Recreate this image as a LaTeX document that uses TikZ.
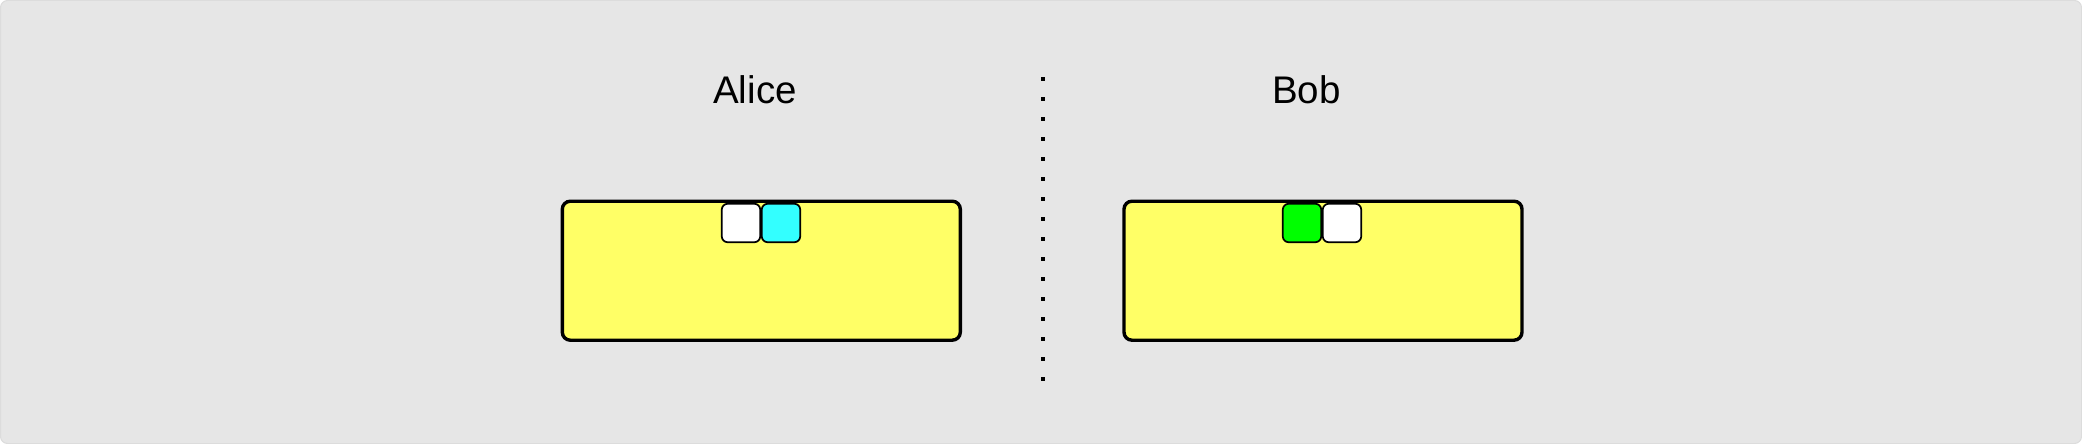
\documentclass[tikz,border=0pt]{standalone}
\usepackage{fontspec}
\setmainfont{Liberation Sans}
\definecolor{bggray}{HTML}{E6E6E6}
\definecolor{bgedge}{HTML}{DCDCDC}
\definecolor{boxyellow}{HTML}{FFFF66}
\definecolor{qcyan}{HTML}{33FFFF}
\definecolor{qgreen}{HTML}{00FF00}
\tikzset{
  party/.style={draw=black, line width=3.4pt, fill=boxyellow, rounded corners=8pt,
    minimum width=398pt, minimum height=139pt, inner sep=0pt, outer sep=0pt},
  qubit/.style={draw=black, line width=1.7pt, rounded corners=6pt,
    minimum width=38.5pt, minimum height=38.5pt, inner sep=0pt, outer sep=0pt},
  lbl/.style={font=\fontsize{38.5}{46}\selectfont, inner sep=0pt, anchor=base},
  divider/.style={line width=4pt, dash pattern=on 4pt off 16pt}
}
\begin{document}
\begin{tikzpicture}[x=1pt,y=-1pt]
\useasboundingbox (0,0) rectangle (2082,444);
\draw[fill=bggray, draw=bgedge, line width=1pt, rounded corners=7pt] (0.5,0.5) rectangle (2081.5,443.5);
\node[lbl] (alice) at (755,103.3) {Alice};
\node[lbl] (bob) at (1306.5,103.3) {Bob};
\coordinate (dtop) at (1043,77);
\coordinate (dbot) at (1043,381);
\draw[divider] (dtop) -- (dbot);
\node[party] (abox) at (761.3,270.7) {};
\node[party] (bbox) at (1323,270.7) {};
\node[qubit, fill=white] (aq1) at (741,223) {};
\node[qubit, fill=qcyan] (aq2) at (781,223) {};
\node[qubit, fill=qgreen] (bq1) at (1302,223) {};
\node[qubit, fill=white] (bq2) at (1342,223) {};
\end{tikzpicture}
\end{document}
